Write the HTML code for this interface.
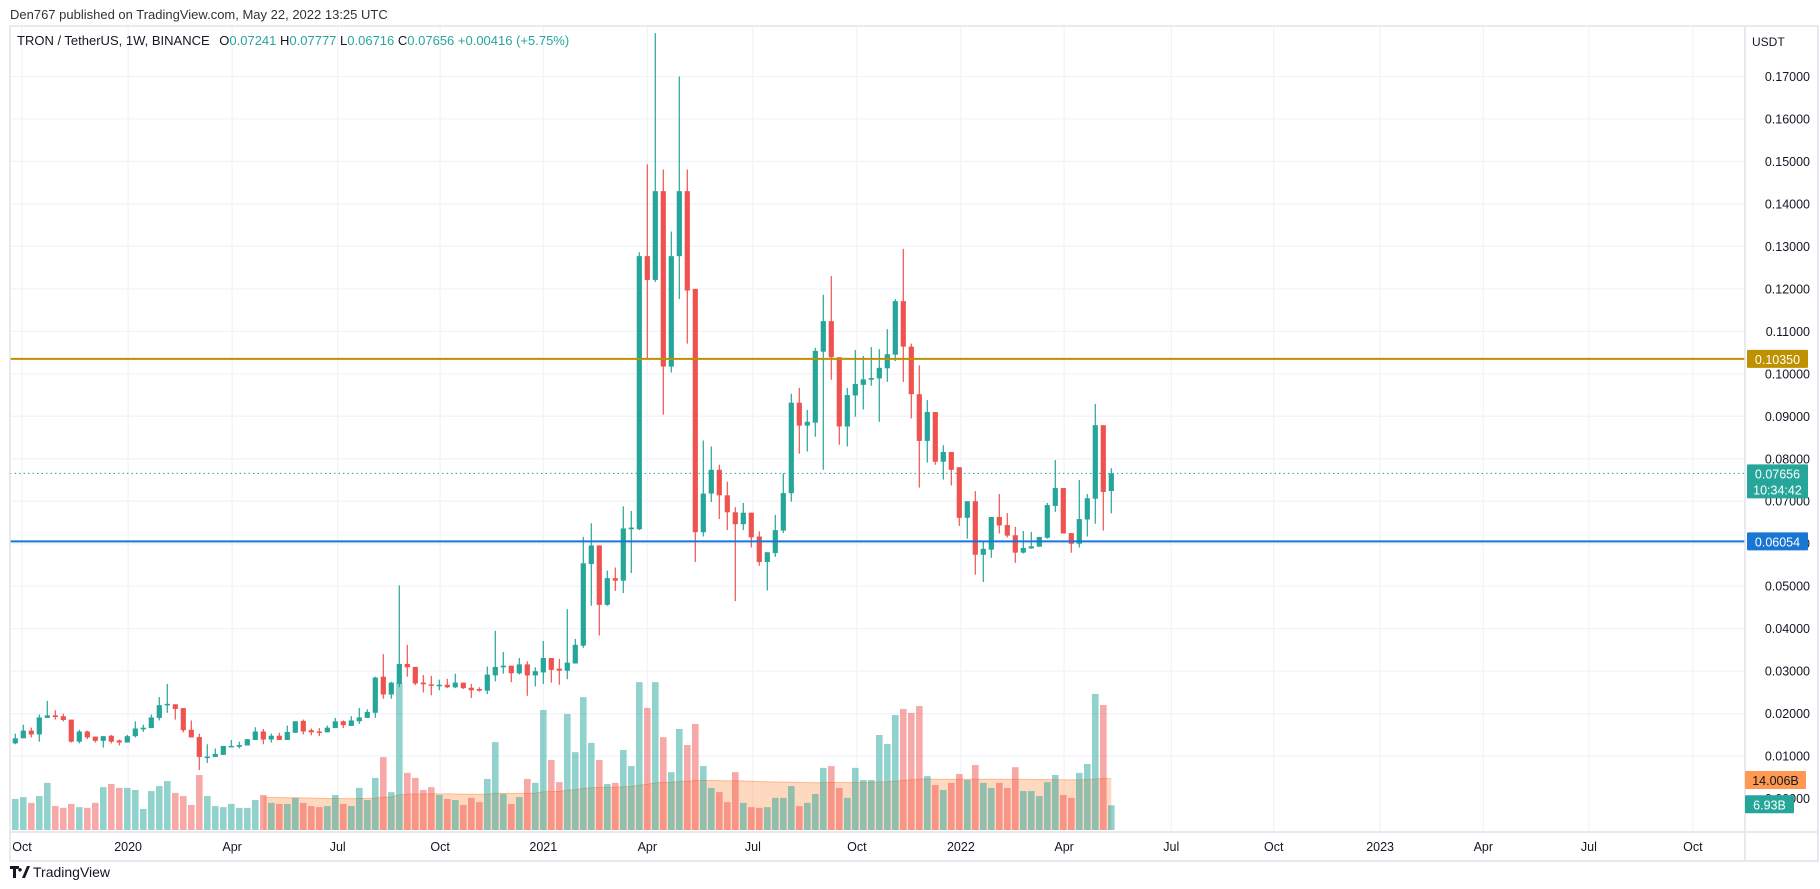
<!DOCTYPE html>
<html><head><meta charset="utf-8">
<style>
html,body{margin:0;padding:0;background:#fff;width:1820px;height:889px;overflow:hidden;font-family:"Liberation Sans",sans-serif;}
svg text{font-family:"Liberation Sans",sans-serif;}
</style></head>
<body>
<svg id="chart" width="1820" height="889" xmlns="http://www.w3.org/2000/svg">
  <rect x="0" y="0" width="1820" height="889" fill="#ffffff"/>
  <text x="10" y="19" font-size="13" fill="#333">Den767 published on TradingView.com, May 22, 2022 13:25 UTC</text>
  <g id="grid"></g>
  <g id="vol"></g>
  <g id="candles"></g>
  <g id="levels"></g>
  <rect x="10" y="26" width="1808" height="835" fill="none" stroke="#e0e3eb" stroke-width="1.5"/>
  <line x1="1745" y1="26" x2="1745" y2="861" stroke="#e0e3eb" stroke-width="1.5"/>
  <line x1="10" y1="832" x2="1818" y2="832" stroke="#e0e3eb" stroke-width="1.5"/>
  <g id="yaxis"></g>
  <g id="xaxis"></g>
  <g id="labels"></g>
  <text x="17" y="45" font-size="13" fill="#131722">TRON / TetherUS, 1W, BINANCE
    <tspan fill="#131722" dx="6">O</tspan><tspan fill="#26a69a">0.07241</tspan>
    <tspan fill="#131722">H</tspan><tspan fill="#26a69a">0.07777</tspan>
    <tspan fill="#131722">L</tspan><tspan fill="#26a69a">0.06716</tspan>
    <tspan fill="#131722">C</tspan><tspan fill="#26a69a">0.07656 +0.00416 (+5.75%)</tspan></text>
  <text x="1752" y="46" font-size="12" fill="#131722">USDT</text>
  <g>
    <path d="M10 866 h9 v3 h-3 v9 h-3 v-9 h-3z M20 868 a1.8 1.8 0 1 0 0.01 0z M22 878 l5 -12 h3 l-5 12z" fill="#131722"/>
    <text x="33" y="877" font-size="14" fill="#131722">TradingView</text>
  </g>
</svg>
<script>
const openP=[.0130,.0142,.0160,.0151,.0190,.0196,.0194,.0186,.0134,.0158,.0146,.0136,.0148,.0137,.0132,.0147,.0163,.0166,.0190,.0220,.0222,.0213,.0162,.0145,.0098,.0098,.0103,.0122,.0122,.0125,.0138,.0158,.0139,.0148,.0138,.0155,.0183,.0161,.0158,.0156,.0166,.0182,.0171,.0182,.0190,.0202,.0287,.0245,.0270,.0317,.0310,.0273,.0269,.0267,.0268,.0262,.0273,.0261,.0258,.0254,.0290,.0309,.0313,.0295,.0316,.0290,.0297,.0331,.0306,.0301,.0318,.0360,.0552,.0596,.0456,.0519,.0513,.0634,.0634,.1277,.1221,.1430,.1017,.1277,.1430,.1200,.0627,.0718,.0774,.0714,.0674,.0646,.0673,.0617,.0557,.0578,.0631,.0719,.0932,.0878,.0885,.1052,.1124,.1039,.0876,.0949,.0974,.0986,.0989,.1013,.1045,.1171,.1064,.0952,.0842,.0910,.0793,.0816,.0780,.0661,.0700,.0574,.0586,.0663,.0644,.0620,.0579,.0589,.0593,.0614,.0689,.0731,.0625,.0600,.0657,.0706,.0879,.07241];
const highP=[.0153,.0174,.0167,.0198,.0230,.0208,.0200,.0186,.0162,.0160,.0146,.0147,.0150,.0139,.0150,.0182,.0174,.0198,.0239,.0270,.0222,.0213,.0184,.0153,.0128,.0118,.0124,.0138,.0134,.0140,.0168,.0164,.0153,.0155,.0172,.0182,.0186,.0165,.0166,.0172,.0190,.0184,.0194,.0213,.0210,.0287,.0340,.0275,.0502,.0362,.0310,.0291,.0289,.0280,.0282,.0294,.0273,.0270,.0262,.0311,.0395,.0345,.0313,.0331,.0323,.0309,.0371,.0331,.0329,.0446,.0376,.0616,.0648,.0596,.0537,.0544,.0688,.0677,.1286,.1493,.1802,.1481,.1335,.1700,.1481,.1200,.0843,.0829,.0786,.0746,.0686,.0696,.0673,.0629,.0580,.0668,.0766,.0953,.0967,.0915,.1061,.1186,.1230,.1039,.0967,.1056,.1042,.1063,.1058,.1105,.1176,.1294,.1071,.1020,.0938,.0910,.0832,.0816,.0780,.0700,.0724,.0606,.0663,.0717,.0672,.0640,.0630,.0628,.0616,.0696,.0797,.0731,.0625,.0750,.0717,.0929,.0879,.07777];
const lowP=[.0128,.0142,.0144,.0134,.0190,.0186,.0182,.0132,.0130,.0140,.0132,.0120,.0130,.0125,.0132,.0144,.0157,.0166,.0184,.0202,.0186,.0156,.0144,.0067,.0084,.0098,.0103,.0122,.0118,.0125,.0138,.0128,.0132,.0138,.0138,.0155,.0151,.0149,.0147,.0156,.0166,.0166,.0171,.0176,.0190,.0190,.0235,.0235,.0262,.0287,.0267,.0250,.0243,.0255,.0260,.0260,.0258,.0237,.0252,.0246,.0276,.0294,.0274,.0292,.0242,.0264,.0270,.0273,.0268,.0281,.0318,.0355,.0454,.0384,.0454,.0489,.0484,.0531,.0632,.1035,.1216,.0904,.1003,.1176,.1071,.0557,.0617,.0698,.0658,.0632,.0465,.0632,.0591,.0548,.0490,.0569,.0625,.0699,.0812,.0817,.0852,.0774,.0986,.0833,.0829,.0899,.0916,.0972,.0887,.0981,.1030,.0981,.0895,.0732,.0791,.0786,.0751,.0737,.0642,.0612,.0527,.0510,.0567,.0624,.0615,.0555,.0577,.0588,.0593,.0612,.0675,.0624,.0579,.0591,.0617,.0647,.0631,.06716];
const closeP=[.0142,.0160,.0151,.0191,.0196,.0192,.0185,.0134,.0158,.0144,.0136,.0147,.0134,.0132,.0147,.0165,.0167,.0191,.0220,.0223,.0211,.0161,.0144,.0098,.0099,.0105,.0124,.0124,.0126,.0140,.0158,.0139,.0148,.0138,.0157,.0182,.0158,.0156,.0157,.0167,.0182,.0173,.0184,.0191,.0204,.0285,.0245,.0273,.0317,.0309,.0271,.0269,.0267,.0268,.0262,.0273,.0260,.0255,.0254,.0292,.0310,.0313,.0295,.0316,.0290,.0300,.0331,.0303,.0301,.0320,.0362,.0554,.0596,.0456,.0519,.0513,.0636,.0638,.1277,.1221,.1430,.1017,.1277,.1430,.1196,.0627,.0718,.0774,.0714,.0674,.0646,.0673,.0615,.0557,.0580,.0632,.0719,.0932,.0878,.0887,.1054,.1124,.1039,.0876,.0950,.0976,.0987,.0990,.1014,.1046,.1171,.1064,.0952,.0842,.0910,.0793,.0816,.0774,.0661,.0700,.0574,.0588,.0663,.0643,.0619,.0579,.0590,.0594,.0616,.0691,.0731,.0624,.0600,.0658,.0707,.0879,.0722,.07656];
const volumeB=[8.7,9.2,7.6,9.5,13.2,6.7,6.2,7.3,6.4,6.2,7.6,12.0,12.9,11.8,11.8,11.2,5.9,10.9,12.3,13.7,10.4,9.5,7.0,15.4,9.5,6.7,6.4,7.3,6.2,6.2,8.4,9.8,7.6,7.3,7.3,9.0,7.6,6.7,6.4,6.7,9.8,7.3,6.7,11.8,8.4,14.6,20.4,10.6,41.2,16.0,14.6,11.2,12.0,9.8,8.7,8.4,7.0,9.0,7.8,14.3,24.6,10.1,7.3,9.2,14.3,13.2,33.6,19.6,13.4,32.5,21.8,37.2,24.4,19.6,12.9,13.2,22.4,17.9,41.4,34.2,41.4,26.0,16.2,28.3,23.8,29.7,17.9,11.8,10.6,7.8,16.2,7.6,6.4,6.2,6.4,9.0,9.0,12.3,6.7,7.6,10.1,17.4,17.9,11.8,9.0,17.4,14.0,14.0,26.6,24.1,32.2,33.9,32.8,34.7,15.1,12.6,11.2,13.2,15.7,14.0,18.2,13.2,11.8,13.2,11.8,17.6,10.9,10.9,9.5,13.4,15.4,9.8,9.0,16.0,18.5,38.1,35.0,6.93];
const priceTicks=[0.01,0.02,0.03,0.04,0.05,0.06,0.07,0.08,0.09,0.10,0.11,0.12,0.13,0.14,0.15,0.16,0.17];
const timeTickLabels=["Oct","2020","Apr","Jul","Oct","2021","Apr","Jul","Oct","2022","Apr","Jul","Oct","2023","Apr","Jul","Oct"];
const timeTickBar=[0.84,14.1,27.1,40.3,53.1,66,79,92.2,105.2,118.2,131.1,144.5,157.3,170.6,183.5,196.7,209.7];
const levelGold=0.1035, levelBlue=0.06054, lastPrice=0.07656, volMA=14.006, lastVol=6.93;

const NS="http://www.w3.org/2000/svg";
function yP(p){return 798.6-p*4248;}
function xB(i){return 15.3+8*i;}
function yV(v){return 830-v*3.571;}
function mk(tag,attrs,parent){const e=document.createElementNS(NS,tag);for(const k in attrs)e.setAttribute(k,attrs[k]);parent.appendChild(e);return e;}
const G=document.getElementById('grid'),V=document.getElementById('vol'),C=document.getElementById('candles'),L=document.getElementById('levels'),YA=document.getElementById('yaxis'),XA=document.getElementById('xaxis'),LB=document.getElementById('labels');

priceTicks.forEach(p=>{
  const l=mk('line',{x1:10,x2:1745,y1:yP(p),y2:yP(p),stroke:'#f0f3fa','stroke-width':1.2},G);
  
  
  const t=mk('text',{x:1810,y:yP(p)+4.5,'font-size':12.5,fill:'#131722','text-anchor':'end'},YA);
  t.textContent=p.toFixed(5);
  
  
});
const t0=mk('text',{x:1810,y:yP(0)+4.5,'font-size':12.5,fill:'#131722','text-anchor':'end'},YA);
t0.textContent='0.00000';



timeTickLabels.forEach((lab,i)=>{
  const x=xB(timeTickBar[i]);
  const l=mk('line',{x1:x,x2:x,y1:26,y2:832,stroke:'#f0f3fa','stroke-width':1.2},G);
  
  
  const t=mk('text',{x:x,y:851,'font-size':12.5,fill:'#131722','text-anchor':'middle'},XA);
  t.textContent=lab;
  
  
});

// volume MA (expanding mean) area
let pts=[],sum=0;
volumeB.forEach((v,i)=>{sum+=v;if(i>=31)pts.push([xB(i),yV(sum/(i+1))]);});
let d='M'+pts[0][0]+' 830 '+pts.map(p=>'L'+p[0]+' '+p[1]).join(' ')+' L'+pts[pts.length-1][0]+' 830Z';
const area=mk('path',{d:d,fill:'rgba(255,152,90,0.38)'},V);


const maLine=mk('path',{d:'M'+pts.map(p=>p[0]+' '+p[1]).join(' L'),fill:'none',stroke:'rgba(255,140,70,0.55)','stroke-width':1},V);



volumeB.forEach((v,i)=>{
  const up=closeP[i]>=openP[i];
  const b=mk('rect',{x:xB(i)-3.3,y:yV(v),width:6.6,height:830-yV(v),fill:up?'rgba(38,166,154,0.5)':'rgba(239,83,80,0.5)'},V);
  
  
});

openP.forEach((o,i)=>{
  const c=closeP[i],up=c>=o,col=up?'#26a69a':'#ef5350',x=xB(i);
  const w=mk('line',{x1:x,x2:x,y1:yP(highP[i]),y2:yP(lowP[i]),stroke:col,'stroke-width':1.2},C);
  
  
  const top=yP(Math.max(o,c)),h=Math.max(1.5,Math.abs(yP(o)-yP(c)));
  const r=mk('rect',{x:x-2.6,y:top,width:5.2,height:h,fill:col},C);
  
  
});

const gl=mk('line',{x1:10,x2:1745,y1:yP(levelGold),y2:yP(levelGold),stroke:'#bf9000','stroke-width':2},L);


const bl=mk('line',{x1:10,x2:1745,y1:yP(levelBlue),y2:yP(levelBlue),stroke:'#1976d2','stroke-width':2},L);


const cl=mk('line',{x1:10,x2:1745,y1:yP(lastPrice),y2:yP(lastPrice),stroke:'#26a69a','stroke-width':1,'stroke-dasharray':'1.5 3'},L);



function box(yc,h,fill,lines,tcol,name,x0,w){
  const g=mk('g',{},LB);
  
  
  mk('rect',{x:x0,y:yc-h/2,width:w,height:h,fill:fill,rx:1},g);
  lines.forEach((s,k)=>{const t=mk('text',{x:x0+w/2,y:yc-h/2+14+k*16,'font-size':12.5,fill:tcol,'text-anchor':'middle'},g);t.textContent=s;});
}
box(yP(levelGold),18,'#bf9000',[levelGold.toFixed(5)],'#fff','resistance-price-label',1747,61);
box(yP(lastPrice)+8,34,'#26a69a',[lastPrice.toFixed(5),'10:34:42'],'#fff','last-price-label',1747,61);
box(yP(levelBlue),18,'#1976d2',[levelBlue.toFixed(5)],'#fff','support-price-label',1747,61);
box(yV(volMA),18,'#ff9850',[volMA.toFixed(3)+'B'],'#131722','volume-ma-label',1745,61);
box(yV(lastVol)-1,18,'#26a69a',[lastVol+'B'],'#fff','volume-last-label',1745,49);
</script>
</body></html>
